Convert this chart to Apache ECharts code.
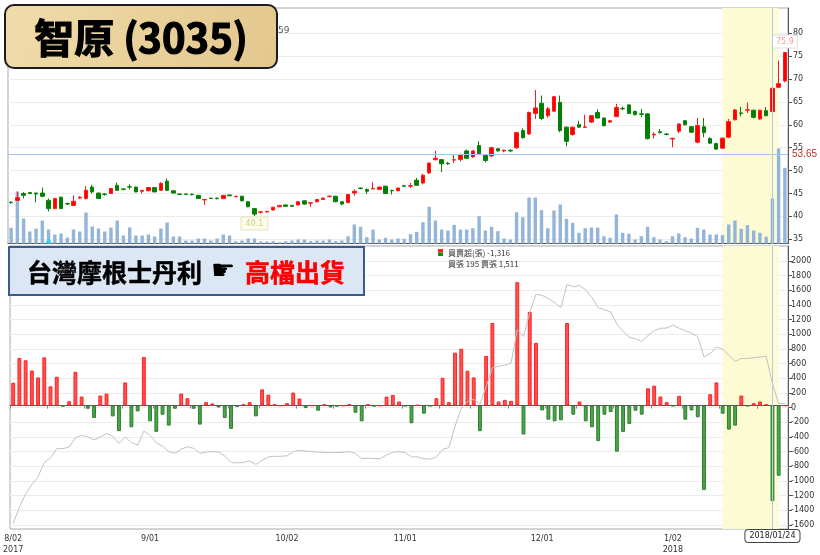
<!DOCTYPE html>
<html><head><meta charset="utf-8">
<script src="https://cdn.jsdelivr.net/npm/echarts@6/dist/echarts.min.js"></script>
<style>html,body{margin:0;padding:0;background:#fff}#c{width:820px;height:555px}</style>
</head><body><div id="c"></div>
<script>
// ---- categories (trading days) ----
const aug = ['2017/08/02','2017/08/03','2017/08/04','2017/08/07','2017/08/08','2017/08/09','2017/08/10','2017/08/11','2017/08/14','2017/08/15','2017/08/16','2017/08/17','2017/08/18','2017/08/21','2017/08/22','2017/08/23','2017/08/24','2017/08/25','2017/08/28','2017/08/29','2017/08/30','2017/08/31'];
const sep = ['2017/09/01','2017/09/04','2017/09/05','2017/09/06','2017/09/07','2017/09/08','2017/09/11','2017/09/12','2017/09/13','2017/09/14','2017/09/15','2017/09/18','2017/09/19','2017/09/20','2017/09/21','2017/09/22','2017/09/25','2017/09/26','2017/09/27','2017/09/28','2017/09/29','2017/09/30'];
const oct = ['2017/10/02','2017/10/03','2017/10/05','2017/10/06','2017/10/11','2017/10/12','2017/10/13','2017/10/16','2017/10/17','2017/10/18','2017/10/19','2017/10/20','2017/10/23','2017/10/24','2017/10/25','2017/10/26','2017/10/27','2017/10/30','2017/10/31'];
const nov = ['2017/11/01','2017/11/02','2017/11/03','2017/11/06','2017/11/07','2017/11/08','2017/11/09','2017/11/10','2017/11/13','2017/11/14','2017/11/15','2017/11/16','2017/11/17','2017/11/20','2017/11/21','2017/11/22','2017/11/23','2017/11/24','2017/11/27','2017/11/28','2017/11/29','2017/11/30'];
const dec = ['2017/12/01','2017/12/04','2017/12/05','2017/12/06','2017/12/07','2017/12/08','2017/12/11','2017/12/12','2017/12/13','2017/12/14','2017/12/15','2017/12/18','2017/12/19','2017/12/20','2017/12/21','2017/12/22','2017/12/25','2017/12/26','2017/12/27','2017/12/28','2017/12/29'];
const jan = ['2018/01/02','2018/01/03','2018/01/04','2018/01/05','2018/01/08','2018/01/09','2018/01/10','2018/01/11','2018/01/12','2018/01/15','2018/01/16','2018/01/17','2018/01/18','2018/01/19','2018/01/22','2018/01/23','2018/01/24','2018/01/25','2018/01/26'];
const dates = aug.concat(sep, oct, nov, dec, jan);

// x tick labels
const xLabels = {'2017/08/02':'8/02\n2017','2017/09/01':'9/01','2017/10/02':'10/02','2017/11/01':'11/01','2017/12/01':'12/01','2018/01/02':'1/02\n2018'};

// ---- price (OHLC) ----
const open = [43.1,43.5,45.0,45.2,45.1,45.1,43.5,41.7,44.2,42.8,
 42.4,44.0,43.9,46.4,45.1,44.9,45.0,46.8,46.0,46.5,
 46.4,45.5,45.6,46.3,45.7,47.7,45.6,44.9,44.9,44.85,
 44.6,43.6,44.0,44.0,43.9,44.7,44.3,44.4,43.2,41.7,
 40.9,41.0,41.4,42.1,42.5,42.4,42.5,43.4,42.9,43.2,
 43.7,44.3,44.4,43.2,43.0,45.1,46.2,45.9,46.0,45.9,
 46.6,45.7,45.6,46.7,46.6,47.9,47.3,49.5,52.4,52.4,
 51.6,52.3,52.45,54.3,53.0,55.5,53.3,53.2,54.8,54.3,
 54.45,55.0,58.75,58.0,62.5,64.7,62.0,63.0,64.9,59.5,
 57.9,60.05,59.45,60.6,62.7,61.5,60.6,61.8,63.6,64.35,
 62.95,62.4,62.4,57.8,58.5,58.0,56.9,58.6,60.9,59.6,
 56.2,59.6,57.0,55.9,54.9,57.3,61.1,62.6,63.2,63.2,
 61.3,63.1,62.9,68.2,69.6];
const close = [43.0,44.1,44.6,45.0,44.9,44.4,41.7,43.9,41.7,42.7,
 43.3,44.2,45.7,45.35,43.9,44.8,46.1,45.7,45.9,46.4,
 45.35,45.7,46.3,45.35,47.2,45.7,45.1,44.8,44.8,44.75,
 43.9,43.7,43.9,43.9,44.6,44.5,44.4,43.4,42.1,40.5,
 41.0,41.1,42.0,42.4,42.2,42.2,43.2,42.7,43.0,43.7,
 44.0,44.4,43.2,42.7,44.8,45.5,46.1,45.5,46.1,46.4,
 45.0,45.6,46.2,46.6,46.7,46.8,49.0,51.65,52.7,51.5,
 51.5,52.4,53.5,52.7,54.3,53.7,52.2,55.0,54.3,54.45,
 54.3,58.3,57.2,62.7,63.7,61.4,63.5,66.15,58.75,56.4,
 59.5,59.5,59.55,62.0,61.5,59.85,60.9,63.8,63.5,62.5,
 62.2,62.3,57.0,57.95,58.3,57.9,57.05,60.2,60.0,58.4,
 59.85,58.3,56.0,54.7,57.1,60.7,63.25,62.5,63.3,61.65,
 63.2,62.0,68.0,69.0,75.8];
const low = [42.8,43.4,43.9,44.9,43.1,44.2,41.1,41.6,41.6,42.5,
 42.3,43.8,43.7,45.0,43.8,44.5,44.9,45.6,45.7,45.9,
 45.3,45.0,45.5,45.3,45.6,45.5,45.0,44.7,44.7,44.6,
 43.8,42.5,43.8,43.7,43.8,44.4,44.2,43.3,42.0,40.1,
 40.6,40.8,41.3,42.0,42.1,42.1,42.4,42.5,42.1,43.1,
 43.6,44.2,43.1,42.5,42.9,44.5,45.9,44.9,46.0,45.8,
 44.9,44.8,45.5,46.4,46.2,46.7,47.0,49.3,52.2,49.7,
 51.3,51.6,52.0,52.6,52.8,53.5,51.8,53.0,54.2,54.0,
 54.0,54.7,57.0,57.8,61.3,61.0,61.6,62.8,58.4,55.3,
 57.6,59.3,59.4,60.4,61.4,59.6,60.5,61.7,63.2,62.4,
 62.1,61.7,56.8,57.0,58.1,57.7,55.1,58.2,59.9,58.2,
 56.0,57.3,55.9,54.5,54.8,57.1,61.0,61.8,62.6,61.4,
 61.1,61.9,62.6,68.0,69.3];
const high = [43.3,45.4,45.3,45.3,45.2,46.3,43.9,44.0,44.3,43.0,
 44.6,44.4,46.6,46.9,45.2,45.1,46.2,47.4,46.1,47.0,
 46.5,45.7,46.4,46.4,47.5,48.3,45.7,45.0,45.0,45.0,
 44.7,43.8,44.0,44.1,44.7,44.7,44.5,44.5,43.3,41.8,
 41.1,41.2,42.1,42.5,42.6,42.5,43.3,43.5,43.0,43.8,
 44.1,44.6,44.5,43.3,44.9,45.9,46.3,46.1,47.5,46.5,
 46.7,45.8,46.3,46.9,47.3,48.4,49.3,51.8,54.3,52.5,
 51.9,53.4,53.7,54.6,54.5,56.4,53.4,55.2,54.9,54.6,
 54.6,58.4,59.2,62.9,67.6,66.4,63.9,66.3,66.4,59.6,
 59.6,60.9,62.2,62.1,63.4,61.6,61.0,64.6,64.0,64.5,
 63.1,63.5,62.5,58.4,59.1,58.2,57.2,60.3,61.0,59.7,
 61.5,61.5,57.3,56.1,57.2,61.3,63.5,63.9,64.9,63.3,
 63.3,63.9,68.2,74.0,75.9];

// ---- volume (lots) ----
const volume = [1570,5200,2500,1200,1500,2300,1400,900,1000,600,
 1400,1200,3100,1700,1500,1200,1600,2300,800,1600,
 800,800,900,700,1500,2100,700,700,300,300,
 500,500,300,500,900,800,230,300,500,500,
 200,200,230,130,230,300,400,400,230,300,
 300,400,230,300,730,1900,1670,630,1400,400,
 570,400,500,470,930,1170,2130,3670,2300,1400,
 1300,1870,1400,1400,1530,2730,1300,1670,1230,500,
 400,3130,2630,4600,4600,3330,1530,3300,3900,2470,
 2070,1070,1530,1600,1600,730,570,2900,1070,970,
 400,730,1670,630,400,230,730,1000,630,500,
 1570,1400,900,900,850,1900,2300,1470,1830,1300,
 1070,670,4500,9500,7570];

// ---- broker net buy/sell (lots) ----
const netBuySell = [316,657,625,484,389,666,266,398,-11,61,
 466,125,-43,-170,139,166,-148,-352,320,-298,
 -80,670,-216,-361,-125,-275,-43,166,102,-43,
 -261,48,30,-25,-170,-320,-16,20,48,-148,
 225,152,20,0,34,180,98,-34,0,-70,
 20,-25,-11,0,20,-98,-216,20,-11,0,
 125,148,57,-5,-243,10,-111,-5,102,384,
 48,730,784,480,389,-352,684,1139,57,80,
 66,1702,-398,1293,866,-66,-193,-216,-202,1139,
 -125,57,-216,-298,-489,-125,-89,-634,-361,-252,
 -70,-125,239,275,125,48,-5,134,-193,-66,
 -161,-1161,157,320,-111,-330,-275,139,-5,34,
 57,20,-1316,-966,0];

// ---- cumulative holding line (read in bottom axis units) ----
const holding = [-1625,-1400,-1216,-1090,-980,-784,-716,-593,-593,-570,
 -443,-407,-430,-470,-434,-384,-420,-520,-434,-511,
 -543,-352,-407,-511,-557,-634,-657,-602,-566,-589,
 -657,-639,-634,-639,-693,-784,-789,-784,-761,-811,
 -752,-707,-698,-698,-693,-634,-616,-625,-634,-639,
 -648,-648,-648,-643,-634,-661,-730,-725,-730,-730,
 -680,-643,-634,-648,-707,-707,-730,-739,-707,-602,
 -580,-284,-34,57,89,20,261,520,543,557,
 589,1048,952,1284,1534,1520,1475,1420,1352,1670,
 1638,1657,1593,1489,1352,1320,1293,1125,1020,943,
 920,884,966,1034,1066,1070,1111,1066,1034,998,
 950,670,716,810,780,690,610,650,650,660,
 670,680,300,30,30];

const refPrice = 53.65;
const cursorDate = '2018/01/24';
const shadeFrom = '2018/01/12', shadeTo = '2018/01/25';
const markerDate = '2017/08/10';

const candleData = dates.map((d, i) => [open[i], close[i], low[i], high[i]]);
const redBar = {color: '#ff5252', borderColor: '#f22', borderWidth: 1};
const greenBar = {color: '#4aa64a', borderColor: '#2e7e2e', borderWidth: 1};
const netData = netBuySell.map(v => ({value: v, itemStyle: v >= 0 ? redBar : greenBar}));

const FONT = 'DejaVu Sans';
const yLabel = {color: '#333', fontSize: 8, fontFamily: FONT, formatter: v => String(v)};
const shade = {silent: true, z: 0, itemStyle: {color: '#fdfbd4'}, data: [[{xAxis: shadeFrom}, {xAxis: shadeTo}]]};
const pointerBase = {show: true, type: 'line', value: dates.indexOf(cursorDate), status: 'show', snap: true, triggerTooltip: false, lineStyle: {color: '#b6cbe0', width: 1, type: 'solid'}};

const chart = echarts.init(document.getElementById('c'));
chart.setOption({
  animation: false,
  textStyle: {fontFamily: FONT},
  tooltip: {trigger: 'axis', triggerOn: 'none', showContent: false},
  grid: [
    {left: 8, right: 32, top: 8, height: 235.5, show: true, borderColor: '#a8a8a8', borderWidth: 1},
    {left: 8, right: 32, top: 33.3, height: 206},
    {left: 8, right: 32, top: 246, height: 286, show: true, borderColor: '#a8a8a8', borderWidth: 1},
    {left: 8, right: 32, top: 261, height: 264}
  ],
  xAxis: [
    {type: 'category', gridIndex: 0, data: dates, boundaryGap: true,
     axisLine: {lineStyle: {color: '#555'}}, axisTick: {show: false}, axisLabel: {show: false}, splitLine: {show: false},
     axisPointer: Object.assign({}, pointerBase, {label: {show: false}})},
    {type: 'category', gridIndex: 1, data: dates, show: false},
    {type: 'category', gridIndex: 2, data: dates, boundaryGap: true,
     axisLine: {lineStyle: {color: '#555'}},
     axisTick: {show: true, length: 3, lineStyle: {color: '#888'},
       interval: i => Math.floor(i * 22 / 125) !== Math.floor((i - 1) * 22 / 125)},
     axisLabel: {interval: (i, v) => xLabels[v] !== undefined, formatter: v => xLabels[v] || '',
       color: '#333', fontSize: 8, lineHeight: 11, margin: 4, fontFamily: FONT},
     splitLine: {show: false},
     axisPointer: Object.assign({}, pointerBase, {label: {show: true, backgroundColor: '#fff', color: '#222',
       borderColor: '#444', borderWidth: 1, padding: [2, 4], fontSize: 8, fontFamily: FONT, margin: 1, shadowBlur: 0}})},
    {type: 'category', gridIndex: 3, data: dates, show: false}
  ],
  yAxis: [
    {type: 'value', gridIndex: 0, position: 'right', min: 34.08, max: 85.53,
     axisLine: {show: true, lineStyle: {color: '#555'}}, axisTick: {show: false}, axisLabel: {show: false}, splitLine: {show: false}},
    {type: 'value', gridIndex: 0, min: 0, max: 23550, show: false, splitLine: {show: false}},
    {type: 'value', gridIndex: 1, position: 'right', min: 35, max: 80, interval: 5,
     axisLine: {show: false}, axisTick: {show: true, length: 4, lineStyle: {color: '#555'}},
     axisLabel: Object.assign({margin: 5}, yLabel),
     splitLine: {lineStyle: {color: '#ececec'}}},
    {type: 'value', gridIndex: 2, position: 'right', min: -1700, max: 2200,
     axisLine: {show: true, lineStyle: {color: '#555'}}, axisTick: {show: false}, axisLabel: {show: false}, splitLine: {show: false}},
    {type: 'value', gridIndex: 3, position: 'right', min: -1600, max: 2000, interval: 200,
     axisLine: {show: false}, axisTick: {show: true, length: 4, lineStyle: {color: '#555'}},
     axisLabel: Object.assign({margin: 3}, yLabel),
     splitLine: {lineStyle: {color: '#ececec'}}}
  ],
  series: [
    {type: 'bar', name: 'volume', xAxisIndex: 0, yAxisIndex: 1, data: volume, barWidth: '55%',
     itemStyle: {color: '#93b5d9'}, z: 2, silent: true,
     markPoint: {silent: true, symbol: 'triangle', symbolSize: [7, 6], symbolOffset: [0, -3],
       itemStyle: {color: '#3fd2ea'}, label: {show: false}, data: [{coord: [markerDate, 0]}]}},
    {type: 'candlestick', name: 'price', xAxisIndex: 0, yAxisIndex: 0, data: candleData, barWidth: '64%', z: 3,
     itemStyle: {color: '#ff0000', color0: '#008000', borderColor: '#ff1a1a', borderColor0: '#0a800a', borderWidth: 1},
     markArea: shade,
     markLine: {silent: true, symbol: 'none', data: [{yAxis: refPrice}],
       lineStyle: {color: '#a9c3ea', type: 'solid', width: 1},
       label: {position: 'end', formatter: String(refPrice), color: '#b5332e', fontSize: 10, fontFamily: 'Liberation Sans', distance: 4}},
     markPoint: {silent: true, symbol: 'rect', symbolSize: 1, itemStyle: {color: 'rgba(0,0,0,0)'},
       data: [
         {type: 'max', valueDim: 'highest', label: {show: true, position: 'top', distance: 4,
           formatter: p => Number(p.value).toFixed(1), color: '#ff9a9a', fontSize: 8, fontFamily: FONT,
           backgroundColor: '#fff', borderColor: '#ddd', borderWidth: 1, padding: [2, 3]}},
         {type: 'min', valueDim: 'lowest', label: {show: true, position: 'bottom', distance: 1,
           formatter: p => Number(p.value).toFixed(1), color: '#c4d28a', fontSize: 8, fontFamily: FONT,
           backgroundColor: '#fcfce9', borderColor: '#e4e4c6', borderWidth: 1, padding: [2, 4]}}
       ]}},
    {type: 'bar', name: 'net', xAxisIndex: 2, yAxisIndex: 3, data: netData, barWidth: '62%', z: 2, silent: true},
    {type: 'line', name: 'holding', xAxisIndex: 2, yAxisIndex: 3, data: holding, symbol: 'none', z: 3, silent: true,
     lineStyle: {color: '#c2c2c2', width: 1}, markArea: shade}
  ],
  graphic: [
    {type: 'text', z: 90, style: {x: 278, y: 31, text: '59', fill: '#555', font: '9px "DejaVu Sans"', verticalAlign: 'middle'}},
    {type: 'rect', z: 100, shape: {x: 5, y: 5, width: 272, height: 63, r: 9},
     style: {fill: new echarts.graphic.LinearGradient(0, 0, 1, 1, [{offset: 0, color: '#f0dcab'}, {offset: 0.5, color: '#e9d19a'}, {offset: 1, color: '#e3c88e'}]),
       stroke: '#1c1c1c', lineWidth: 2}},
    {type: 'text', z: 101, style: {x: 141, y: 38, text: '智原 (3035)', fill: '#000', stroke: '#000', lineWidth: 1.2,
      font: 'bold 40px "Noto Sans CJK TC"', align: 'center', verticalAlign: 'middle'}},
    {type: 'rect', z: 100, shape: {x: 9, y: 247, width: 355, height: 48},
     style: {fill: '#dbe7f5', stroke: '#3b5b8c', lineWidth: 2}},
    {type: 'text', z: 101, style: {x: 27, y: 272, text: '台灣摩根士丹利', fill: '#000', stroke: '#000', lineWidth: 0.5,
      verticalAlign: 'middle', font: 'bold 25px "Noto Sans CJK TC"'}},
    {type: 'text', z: 101, style: {x: 211, y: 272, text: '☛', fill: '#000', verticalAlign: 'middle',
      font: '27px "DejaVu Sans"'}},
    {type: 'text', z: 101, style: {x: 245, y: 272, text: '高檔出貨', fill: '#ff0000', stroke: '#ff0000', lineWidth: 0.5,
      verticalAlign: 'middle', font: 'bold 25px "Noto Sans CJK TC"'}},
    {type: 'rect', z: 100, shape: {x: 438, y: 249, width: 5, height: 3.5}, style: {fill: '#ff2020'}},
    {type: 'rect', z: 100, shape: {x: 438, y: 252.5, width: 5, height: 3.5}, style: {fill: '#1a8a1a'}},
    {type: 'text', z: 100, style: {x: 448, y: 253, text: '買賣超(張) -1,316', fill: '#333', font: '8px "Noto Sans CJK TC"', verticalAlign: 'middle'}},
    {type: 'text', z: 100, style: {x: 448, y: 264, text: '買張 195 賣張 1,511', fill: '#333', font: '8px "Noto Sans CJK TC"', verticalAlign: 'middle'}}
  ]
});
</script>
</body></html>
